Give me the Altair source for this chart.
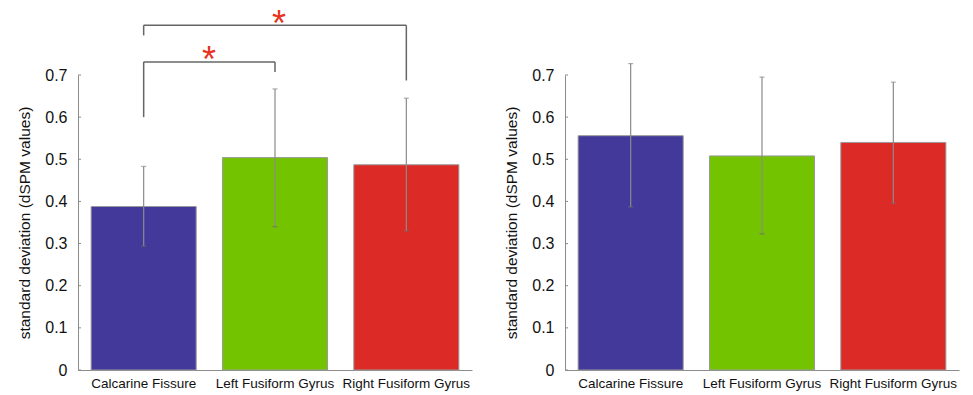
import altair as alt
import pandas as pd

# Regions of interest (shared by both panels)
regions = ["Calcarine Fissure", "Left Fusiform Gyrus", "Right Fusiform Gyrus"]
bar_colors = ["#43399a", "#74c300", "#dc2b26"]

# Left panel: mean standard deviation and error-bar limits
left_mean = [0.388, 0.504, 0.487]
left_low = [0.294, 0.340, 0.330]
left_high = [0.483, 0.667, 0.645]

# Right panel
right_mean = [0.556, 0.508, 0.540]
right_low = [0.387, 0.323, 0.396]
right_high = [0.727, 0.695, 0.683]

# Significance brackets on the left panel (from -> to, leg heights, top level)
br_from = ["Calcarine Fissure", "Calcarine Fissure"]
br_to = ["Left Fusiform Gyrus", "Right Fusiform Gyrus"]
br_left_foot = [0.600, 0.794]
br_right_foot = [0.707, 0.687]
br_top = [0.731, 0.818]
star_region = ["Left Fusiform Gyrus", "Left Fusiform Gyrus"]
star_y = [0.752, 0.837]
star_dx = [-66, 4]

y_ticks = [0, 0.1, 0.2, 0.3, 0.4, 0.5, 0.6, 0.7]

FONT = "Liberation Sans"
Y_TITLE = "standard deviation (dSPM values)"


def panel(mean, low, high):
    df = pd.DataFrame({"region": regions, "mean": mean, "low": low, "high": high})
    x = alt.X(
        "region:N",
        sort=regions,
        scale=alt.Scale(paddingInner=0.2, paddingOuter=0.1),
        axis=alt.Axis(
            title=None, labelAngle=0, ticks=False, domainColor="#8c8c8c",
            labelFont=FONT, labelFontSize=13.5, labelColor="#111", labelPadding=6,
        ),
    )
    y_scale = alt.Scale(domain=[0, 0.7], nice=False)
    y = alt.Y(
        "mean:Q",
        scale=y_scale,
        axis=alt.Axis(
            title=Y_TITLE, values=y_ticks, ticks=False, grid=False,
            labelExpr="datum.value == 0 ? '0' : format(datum.value, '.1f')",
            domainColor="#8c8c8c", labelFont=FONT, labelFontSize=16,
            labelColor="#111", labelPadding=11, titleFont=FONT,
            titleFontSize=15.5, titleFontWeight="normal", titleColor="#111",
            titlePadding=12,
        ),
    )
    bars = alt.Chart(df).mark_bar(stroke="#9a9a9a", strokeWidth=1).encode(
        x=x,
        y=y,
        color=alt.Color("region:N", scale=alt.Scale(domain=regions, range=bar_colors), legend=None),
    )
    err = alt.Chart(df).mark_rule(color="#8a8a8a", strokeWidth=1.2).encode(
        x=alt.X("region:N", sort=regions),
        y=alt.Y("low:Q", scale=y_scale),
        y2="high:Q",
    )
    cap_hi = alt.Chart(df).mark_tick(color="#8a8a8a", size=5, thickness=1.2, orient="horizontal").encode(
        x=alt.X("region:N", sort=regions), y=alt.Y("high:Q", scale=y_scale)
    )
    cap_lo = alt.Chart(df).mark_tick(color="#6e6e6e", size=5, thickness=1.2, orient="horizontal").encode(
        x=alt.X("region:N", sort=regions), y=alt.Y("low:Q", scale=y_scale)
    )
    # short inward tick marks on the y axis
    tdf = pd.DataFrame({"t": y_ticks})
    yticks = alt.Chart(tdf).mark_rule(color="#8c8c8c").encode(
        x=alt.value(0), x2=alt.value(3), y=alt.Y("t:Q", scale=y_scale)
    )
    return bars + err + cap_hi + cap_lo + yticks, y_scale


left_layers, ys = panel(left_mean, left_low, left_high)

bdf = pd.DataFrame({
    "a": br_from, "b": br_to, "lf": br_left_foot, "rf": br_right_foot, "top": br_top,
})
bx = dict(sort=regions)
leg_left = alt.Chart(bdf).mark_rule(color="#666", strokeWidth=1.5).encode(
    x=alt.X("a:N", **bx), y=alt.Y("lf:Q", scale=ys), y2="top:Q"
)
leg_right = alt.Chart(bdf).mark_rule(color="#666", strokeWidth=1.5).encode(
    x=alt.X("b:N", **bx), y=alt.Y("rf:Q", scale=ys), y2="top:Q"
)
bar_top = alt.Chart(bdf).mark_rule(color="#666", strokeWidth=1.5).encode(
    x=alt.X("a:N", **bx), x2="b:N", y=alt.Y("top:Q", scale=ys)
)
stars = []
for r, sy, dx in zip(star_region, star_y, star_dx):
    sdf = pd.DataFrame({"region": [r], "y": [sy], "label": ["*"]})
    stars.append(
        alt.Chart(sdf).mark_text(
            color="#e8321e", font=FONT, fontSize=36, baseline="middle", dx=dx, dy=8
        ).encode(x=alt.X("region:N", sort=regions), y=alt.Y("y:Q", scale=ys), text="label:N")
    )

left = alt.layer(left_layers, leg_left, leg_right, bar_top, *stars).properties(width=394, height=295)

right_layers, _ = panel(right_mean, right_low, right_high)
right = right_layers.properties(width=394, height=295)

chart = (
    alt.hconcat(left, right, spacing=32)
    .resolve_scale(x="independent", y="independent", color="independent")
    .configure_view(stroke=None)
    .properties(padding={"left": 17, "top": 7, "right": 5, "bottom": 5}, background="white")
)

chart.save("out.html", embed_options={"renderer": "svg", "actions": False})
